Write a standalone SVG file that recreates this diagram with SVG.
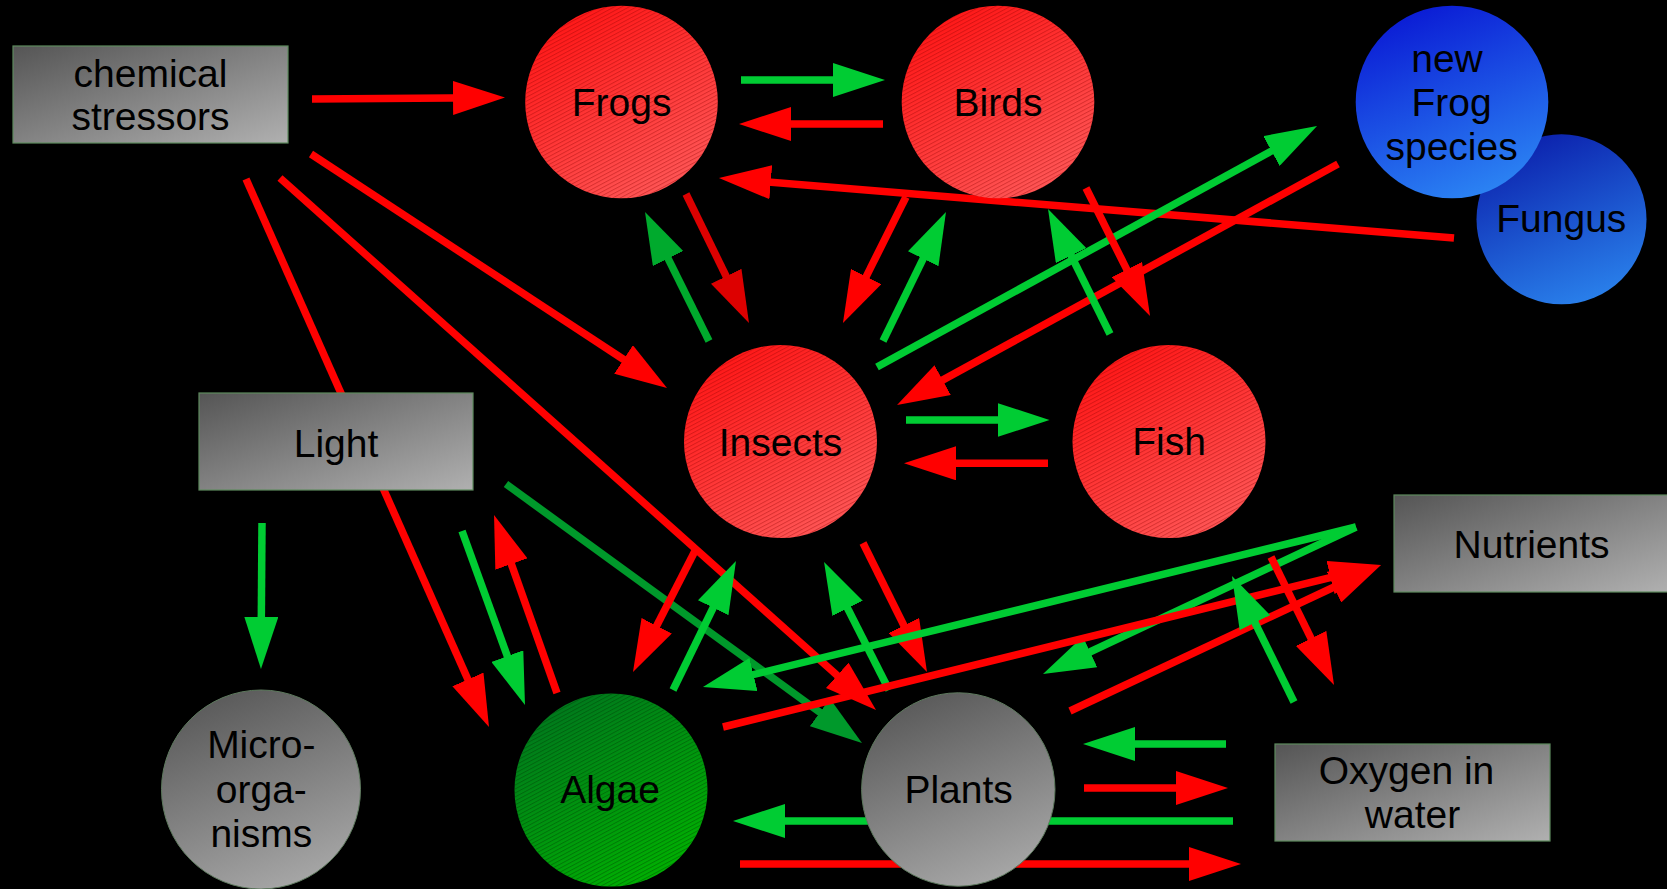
<svg xmlns="http://www.w3.org/2000/svg" width="1667" height="889" viewBox="0 0 1667 889">
<defs>
<linearGradient id="gBox" x1="0" y1="0" x2="1" y2="1"><stop offset="0" stop-color="#555555"/><stop offset="1" stop-color="#b0b0b0"/></linearGradient>
<linearGradient id="gGray" x1="0.3" y1="0" x2="0.7" y2="1"><stop offset="0" stop-color="#595959"/><stop offset="1" stop-color="#a8a8a8"/></linearGradient>
<linearGradient id="gRed" x1="0.2" y1="0" x2="0.8" y2="1"><stop offset="0" stop-color="#ff1414"/><stop offset="1" stop-color="#ff5a5a"/></linearGradient>
<linearGradient id="gAlgae" x1="0.2" y1="0" x2="0.8" y2="1"><stop offset="0" stop-color="#00761e"/><stop offset="1" stop-color="#00b400"/></linearGradient>
<linearGradient id="gBlue" x1="0.3" y1="0" x2="0.7" y2="1"><stop offset="0" stop-color="#0a1ad4"/><stop offset="1" stop-color="#2c86f4"/></linearGradient>
<linearGradient id="gBlue2" x1="0.3" y1="0" x2="0.7" y2="1"><stop offset="0" stop-color="#0b20ac"/><stop offset="1" stop-color="#2a82ec"/></linearGradient>
<pattern id="hRed" patternUnits="userSpaceOnUse" width="12" height="3.5" patternTransform="rotate(-28)"><rect x="0" y="0" width="12" height="1" fill="#900000" fill-opacity="0.35"/></pattern>
<pattern id="hGreen" patternUnits="userSpaceOnUse" width="12" height="3.5" patternTransform="rotate(-28)"><rect x="0" y="0" width="12" height="1" fill="#003000" fill-opacity="0.35"/></pattern>
<marker id="mR" viewBox="0 0 52 34" markerWidth="52" markerHeight="34" refX="32" refY="17" orient="auto" markerUnits="userSpaceOnUse"><path d="M0,0 L52,17 L0,34 z" fill="#ff0000"/></marker>
<marker id="mDR" viewBox="0 0 52 34" markerWidth="52" markerHeight="34" refX="32" refY="17" orient="auto" markerUnits="userSpaceOnUse"><path d="M0,0 L52,17 L0,34 z" fill="#dd0000"/></marker>
<marker id="mG" viewBox="0 0 52 34" markerWidth="52" markerHeight="34" refX="32" refY="17" orient="auto" markerUnits="userSpaceOnUse"><path d="M0,0 L52,17 L0,34 z" fill="#00cc33"/></marker>
<marker id="mG2" viewBox="0 0 52 34" markerWidth="52" markerHeight="34" refX="32" refY="17" orient="auto" markerUnits="userSpaceOnUse"><path d="M0,0 L52,17 L0,34 z" fill="#00aa2d"/></marker>
<marker id="mDG" viewBox="0 0 52 34" markerWidth="52" markerHeight="34" refX="32" refY="17" orient="auto" markerUnits="userSpaceOnUse"><path d="M0,0 L52,17 L0,34 z" fill="#00992b"/></marker>
</defs>
<style>
.r{stroke:#ff0000;stroke-width:7.5;fill:none;marker-end:url(#mR)}
.dr{stroke:#dd0000;stroke-width:7.5;fill:none;marker-end:url(#mDR)}
.g{stroke:#00cc33;stroke-width:7.5;fill:none;marker-end:url(#mG)}
.g2{stroke:#00aa2d;stroke-width:7.5;fill:none;marker-end:url(#mG2)}
.dg{stroke:#00992b;stroke-width:7.5;fill:none;marker-end:url(#mDG)}
.box{fill:url(#gBox);stroke:#5e8a5e;stroke-width:1.2}
.red{fill:url(#gRed)}
.hr{fill:url(#hRed)}
.hg{fill:url(#hGreen)}
.gray{fill:url(#gGray);stroke:#5e7a5e;stroke-width:1}
text{font-family:"Liberation Sans",Arial,sans-serif;font-size:39px;fill:#000;text-anchor:middle}
</style>
<rect x="0" y="0" width="1667" height="889" fill="#000"/>
<g id="connectors">
<path class="r" d="M312,99 L485,97.7"/>
<path class="g" d="M741,80 L865,80"/>
<path class="r" d="M883,124 L759,124"/>
<path class="r" d="M1454,238 L738.9,179.6"/>
<path class="dr" d="M686,194 L740.2,305"/>
<path class="g2" d="M709,341 L653.9,229.9"/>
<path class="r" d="M906,197 L851.9,305.1"/>
<path class="g" d="M883,341 L937.2,230"/>
<path class="g" d="M877,367 L1299.5,135.6"/>
<path class="r" d="M1338,164 L914.6,395.4"/>
<path class="r" d="M1086,188 L1141.1,298.1"/>
<path class="g" d="M1110,334 L1056.9,226.9"/>
<path class="g" d="M906,420 L1029.5,420"/>
<path class="r" d="M1048,463.3 L924,463.3"/>
<path class="r" d="M311,154 L650.3,377"/>
<path class="r" d="M280,178 L861.1,696.7"/>
<path class="r" d="M246,179 L480.9,708.7"/>
<path class="g" d="M262,523 L261.1,649"/>
<path class="g" d="M462,531 L518.2,686.2"/>
<path class="r" d="M557,693 L500.7,533.9"/>
<path class="dg" d="M506,484 L845.8,731.2"/>
<path class="r" d="M697,547 L642.1,654.2"/>
<path class="g" d="M673,690 L727.2,579"/>
<path class="g" d="M889,690 L833.1,579.8"/>
<path class="r" d="M863,543 L918.1,654.1"/>
<path class="g" d="M1356,527 L722.4,682.2"/>
<path class="g" d="M1356,527 L1061.1,665.5"/>
<path class="r" d="M723,727 L1361.6,569.8"/>
<path class="r" d="M1070,711 L1362.9,573.5"/>
<path class="g" d="M1294,702 L1240.8,594"/>
<path class="r" d="M1271,557 L1325.2,667.1"/>
<path class="g" d="M1226,744 L1103,744"/>
<path class="r" d="M1084,788 L1208,788"/>
<path class="g" d="M1233,821 L753,821"/>
<path class="r" d="M740,864 L1221,864"/>
</g>
<g id="chemical-stressors"><rect class="box" x="13" y="46" width="275" height="97"/><text x="150.5" y="87.3">chemical</text><text x="150.5" y="130">stressors</text></g>
<g id="light"><rect class="box" x="199" y="393" width="274" height="97"/><text x="336" y="456.7">Light</text></g>
<g id="nutrients"><rect class="box" x="1394" y="495" width="274" height="97"/><text x="1531.5" y="557.8">Nutrients</text></g>
<g id="oxygen"><rect class="box" x="1275" y="744" width="275" height="97"/><text x="1406.5" y="784">Oxygen in</text><text x="1412.5" y="828.4">water</text></g>
<g id="frogs"><circle class="red" cx="621.5" cy="102" r="96.3"/><circle class="hr" cx="621.5" cy="102" r="96.3"/><text x="621.6" y="116">Frogs</text></g>
<g id="birds"><circle class="red" cx="998" cy="102" r="96.3"/><circle class="hr" cx="998" cy="102" r="96.3"/><text x="998" y="116">Birds</text></g>
<g id="fungus"><circle cx="1561.5" cy="219.3" r="85" fill="url(#gBlue2)"/><text x="1561.3" y="232.3">Fungus</text></g>
<g id="new-frog-species"><circle cx="1452" cy="102" r="96.3" fill="url(#gBlue)"/><text x="1447" y="71.5">new</text><text x="1451.6" y="115.5">Frog</text><text x="1451.6" y="159.5">species</text></g>
<g id="insects"><circle class="red" cx="780.5" cy="441.5" r="96.5"/><circle class="hr" cx="780.5" cy="441.5" r="96.5"/><text x="780.5" y="455.5">Insects</text></g>
<g id="fish"><circle class="red" cx="1169" cy="441.5" r="96.5"/><circle class="hr" cx="1169" cy="441.5" r="96.5"/><text x="1169" y="454.8">Fish</text></g>
<g id="micro-organisms"><circle class="gray" cx="261" cy="789.5" r="99.5"/><text x="261.3" y="758.3">Micro-</text><text x="261.3" y="803.3">orga-</text><text x="261.3" y="846.7">nisms</text></g>
<g id="algae"><circle cx="611" cy="790" r="96.5" fill="url(#gAlgae)"/><circle class="hg" cx="611" cy="790" r="96.5"/><text x="610" y="803">Algae</text></g>
<g id="plants"><circle class="gray" cx="958.3" cy="789.5" r="96.7"/><text x="958.6" y="803">Plants</text></g>
</svg>
